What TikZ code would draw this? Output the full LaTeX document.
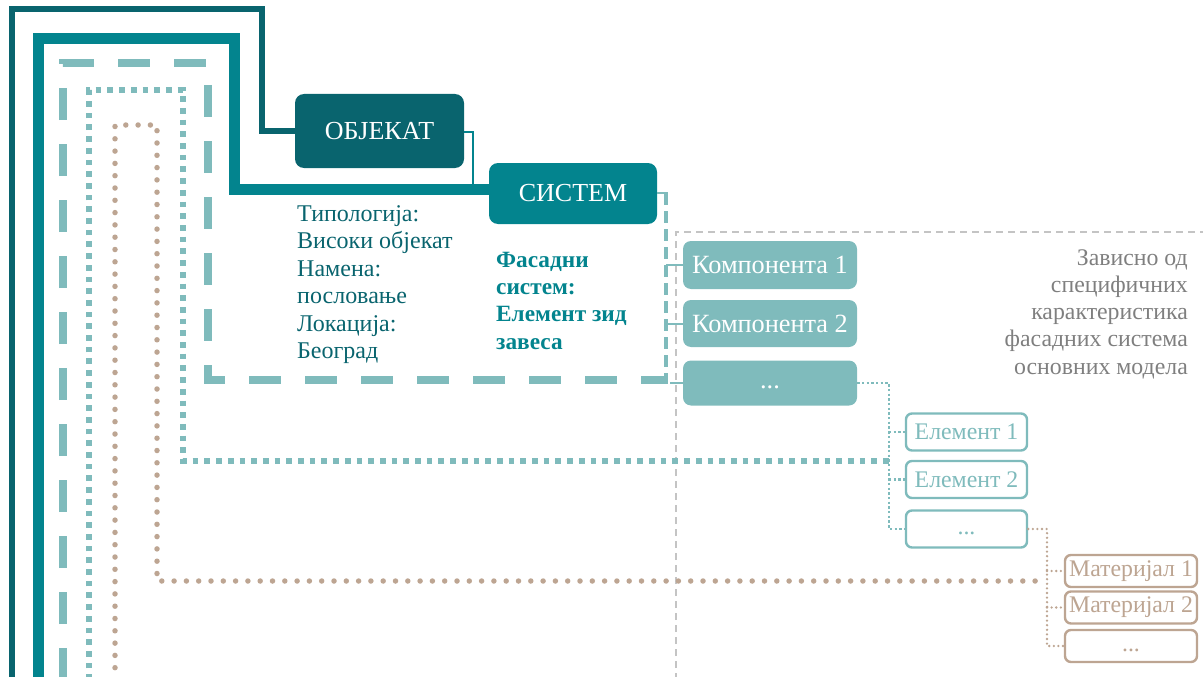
\documentclass[tikz,border=0pt]{standalone}
\usepackage{fontspec}
\setmainfont{Liberation Serif}
\definecolor{cdark}{HTML}{09646E}
\definecolor{cmid}{HTML}{03848E}
\definecolor{clight}{HTML}{7FBBBC}
\definecolor{ctan}{HTML}{BDA592}
\definecolor{cgray}{HTML}{C4C4C4}
\definecolor{ctext}{HTML}{7F7F7F}
\tikzset{
  bigbox/.style={rounded corners=9pt, inner sep=0pt, text=white, font=\fontsize{26}{30}\selectfont},
  compbox/.style={rounded corners=8pt, inner sep=0pt, fill=clight, text=white, minimum width=174pt, font=\fontsize{26.3}{30}\selectfont},
  elbox/.style={rounded corners=6pt, inner sep=0pt, draw=clight, line width=2.4pt, fill=white, text=clight, minimum width=121pt, minimum height=37pt, font=\fontsize{23.8}{26}\selectfont},
  matbox/.style={rounded corners=6pt, inner sep=0pt, draw=ctan, line width=2.4pt, fill=white, text=ctan, minimum width=132pt, minimum height=32pt, font=\fontsize{23.8}{26}\selectfont},
  lineA/.style={cdark, line width=6pt},
  lineB/.style={cmid, line width=11pt},
  lineC/.style={clight, line width=8pt, dash pattern=on 32pt off 24pt},
  lineCthin/.style={clight, line width=4.5pt, dash pattern=on 12pt off 6pt},
  lineD/.style={clight, line width=5.5pt, dash pattern=on 5.7pt off 6pt},
  lineDthin/.style={clight, line width=2.5pt, dash pattern=on 2.4pt off 2.3pt},
  lineE/.style={ctan, line width=5.5pt, line cap=round, dash pattern=on 0pt off 12.3pt},
  lineEthin/.style={ctan, line width=2.6pt, line cap=round, dash pattern=on 0pt off 4.6pt},
  thin/.style={line width=2pt},
  infotext/.style={anchor=base west, inner sep=0pt, text=cdark, font=\fontsize{24}{27}\selectfont},
  boldtext/.style={anchor=base west, inner sep=0pt, text=cmid, font=\fontsize{23.3}{27}\selectfont\bfseries},
  notetext/.style={anchor=base east, inner sep=0pt, text=ctext, font=\fontsize{23.8}{27}\selectfont},
}
\begin{document}
\begin{tikzpicture}[x=1pt, y=-1pt]
\useasboundingbox (0,0) rectangle (1203,677);

% gray dashed frame
\coordinate (gA) at (676,680);
\coordinate (gB) at (676,232);
\coordinate (gC) at (1206,232);
\draw[cgray, line width=1.8pt, dash pattern=on 7pt off 5pt] (gA) -- (gB) -- (gC);

% nodes
\node[bigbox, fill=cdark, minimum width=169pt, minimum height=74pt] (obj) at (379.5,131) {ОБЈЕКАТ};
\node[bigbox, fill=cmid, minimum width=168pt, minimum height=61pt] (sys) at (573,193.5) {СИСТЕМ};

\node[compbox, minimum height=48pt] (k1) at (770,265) {Компонента 1};
\node[compbox, minimum height=47pt] (k2) at (770,323.5) {Компонента 2};
\node[compbox, minimum height=45pt] (k3) at (770,383) {\vphantom{Кр}...};

\node[elbox] (e1) at (966.5,432) {Елемент 1};
\node[elbox] (e2) at (966.5,479.5) {Елемент 2};
\node[elbox] (e3) at (966.5,529) {\vphantom{Ер}...};

\node[matbox] (m1) at (1131,571) {Материјал 1};
\node[matbox] (m2) at (1131,607.5) {Материјал 2};
\node[matbox] (m3) at (1131,646) {\vphantom{Мр}...};

% texts
\foreach \t [count=\i] in {Типологија:, Високи објекат, Намена:, пословање, Локација:, Београд}
  \node[infotext] (info\i) at (297,{221+27.5*(\i-1)}) {\t};
\foreach \t [count=\i] in {Фасадни, систем:, Елемент зид, завеса}
  \node[boldtext] (fs\i) at (496,{267+27.4*(\i-1)}) {\t};
\foreach \t [count=\i] in {Зависно од, специфичних, карактеристика, фасадних система, основних модела}
  \node[notetext] (note\i) at (1188,{265+27.3*(\i-1)}) {\t};

% level 1 line
\coordinate (a0) at (12,680);
\coordinate (a1) at (12,9);
\coordinate (a2) at (262,9);
\coordinate (a3) at (262,131);
\draw[lineA] (a0) -- (a1) -- (a2) -- (a3) -- (obj.west |- a3);

% level 2 line
\coordinate (b0) at (38.5,680);
\coordinate (b1) at (38.5,39);
\coordinate (b2) at (234.5,39);
\coordinate (b3) at (234.5,189.5);
\draw[lineB] (b0) -- (b1) -- (b2) -- (b3) -- (sys.west |- b3);
\coordinate (ob1) at (473,132);
\coordinate (ob2) at (473,185);
\draw[cmid, thin] (obj.east |- ob1) -- (ob1) -- (ob2);

% level 3 line
\coordinate (c0) at (63,680);
\coordinate (c1) at (63,63);
\coordinate (c2) at (208,63);
\coordinate (c3) at (208,380);
\coordinate (c4) at (668,380);
\draw[lineC] (c0) -- (c1) -- (c2) -- (c3) -- (c4);
\coordinate (s1) at (666,193);
\coordinate (s2) at (666,378);
\draw[clight, thin] (sys.east |- s1) -- (668,193);
\draw[lineCthin] (s1) -- (s2);
\draw[clight, thin] (666,265) -- (k1.west);
\draw[clight, thin] (666,323.5) -- (k2.west);
\draw[clight, thin] (670,383) -- (k3.west);

% level 4 line
\coordinate (d0) at (89,680);
\coordinate (d1) at (89,90);
\coordinate (d2) at (183,90);
\coordinate (d3) at (183,461);
\coordinate (d4) at (889,461);
\draw[lineD] (d0) -- (d1) -- (d2) -- (d3) -- (d4);
\coordinate (kv1) at (889,383);
\coordinate (kv2) at (889,529);
\draw[lineDthin] (k3.east) -- (kv1) -- (kv2) -- (e3.west);
\draw[lineDthin] (e1.west -| kv1) -- (e1.west);
\draw[lineDthin] (e2.west -| kv1) -- (e2.west);

% level 5 line
\coordinate (f0) at (115,680);
\coordinate (f1) at (115,125);
\coordinate (f2) at (157,125);
\coordinate (f3) at (157,581);
\coordinate (f4) at (1045,581);
\draw[lineE] (f0) -- (f1) -- (f2) -- (f3) -- (f4);
\coordinate (ev1) at (1047,529);
\coordinate (ev2) at (1047,646);
\draw[lineEthin] (e3.east) -- (ev1) -- (ev2) -- (m3.west);
\draw[lineEthin] (m1.west -| ev1) -- (m1.west);
\draw[lineEthin] (m2.west -| ev1) -- (m2.west);
\end{tikzpicture}
\end{document}
